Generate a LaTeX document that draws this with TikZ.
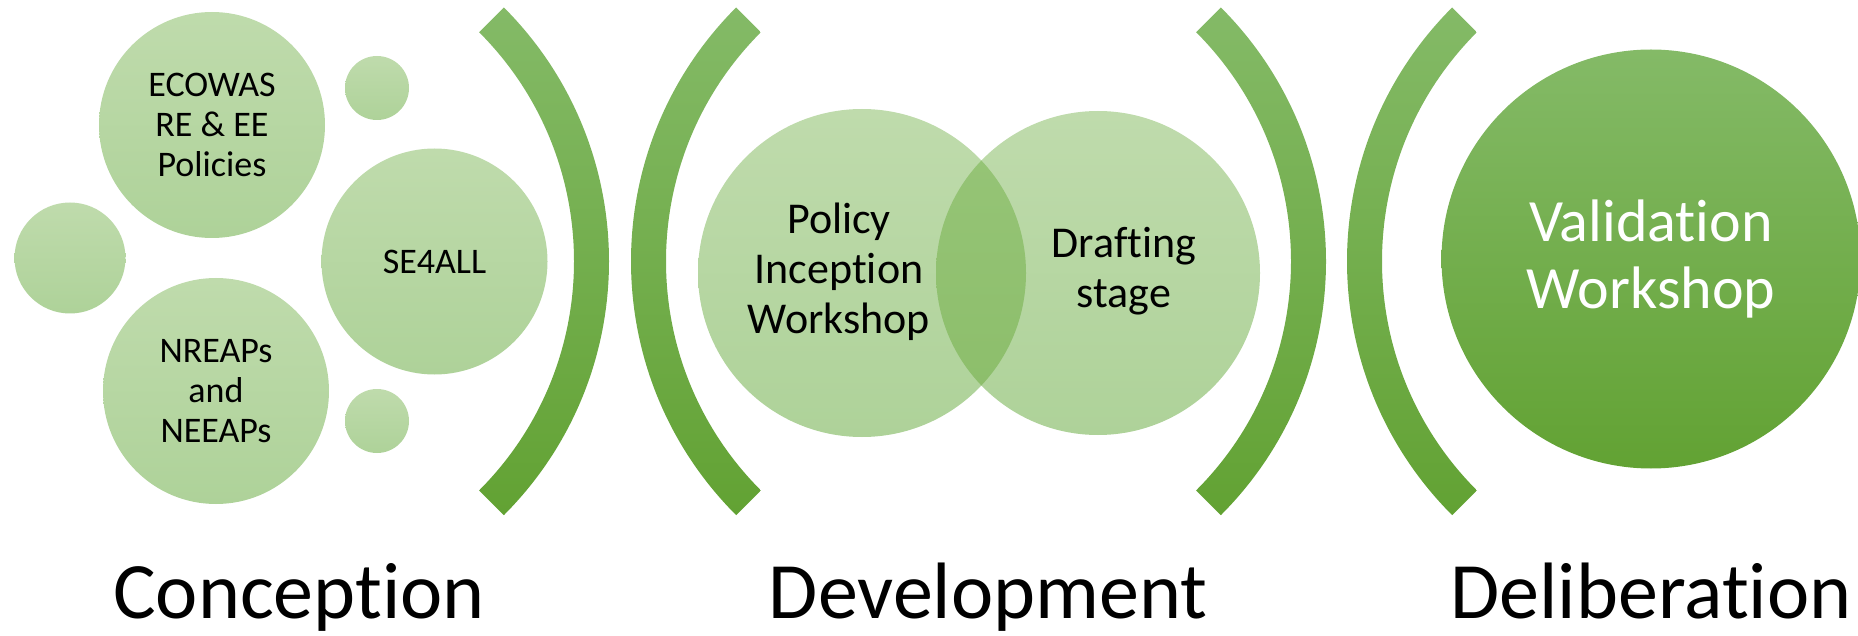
\documentclass[tikz,border=0pt]{standalone}
\usepackage{fontspec}
\setmainfont{Carlito}[RawFeature={-liga;-clig;-calt;-dlig}]
\usetikzlibrary{shapes,positioning}
\definecolor{leafhi}{HTML}{84BA67}
\definecolor{leaflo}{HTML}{62A233}
\definecolor{palehi}{HTML}{BFDBAC}
\definecolor{palelo}{HTML}{AED299}
\definecolor{lenshi}{HTML}{97C578}
\definecolor{lenslo}{HTML}{8BBD69}
\newcommand{\parenrad}{359}
\newcommand{\parenin}{324}
% one bracket: #1 = centre x, #2 = start angle
\newcommand{\paren}[2]{%
    \shade[bracket] ([shift={(#2:\parenrad)}]#1,261.3) arc[start angle=#2, delta angle=90, radius=\parenrad]
        -- ([shift={(#2+90:\parenin)}]#1,261.3) arc[start angle=#2+90, delta angle=-90, radius=\parenin] -- cycle;}
\tikzset{
    x = 0.5pt, y = -0.5pt,
    bubble/.style = { circle, inner sep = 0pt, outer sep = 0pt,
        top color = palehi, bottom color = palelo,
        align = center, font = \fontsize{18}{20}\selectfont,
        minimum size = #1
    },
    bubble/.default = 113pt,
    bigtext/.style = { align = center, font = \fontsize{22}{25}\selectfont },
    stage/.style = { circle, inner sep = 0pt, outer sep = 0pt,
        top color = leafhi, bottom color = leaflo,
        align = center, text = white,
        font = \fontsize{30}{33.8}\selectfont,
        minimum size = 209.5pt
    },
    phase/.style = { anchor = base, font = \fontsize{40}{48}\selectfont },
    bracket/.style = { top color = leafhi, bottom color = leaflo }
}
\begin{document}
\begin{tikzpicture}
    \useasboundingbox (0,0) rectangle (1858,636);

    % Conception...
    \node[bubble] (ecowas) at (212,125) {ECOWAS\\ RE \& EE\\ Policies};
    \node[bubble] (se4all) at (434.5,261.5) {SE4ALL};
    \node[bubble] (nreap)  at (216,391) {NREAPs\\ and\\ NEEAPs};
    \node[bubble=55.5pt] (dotl) at (70,258) {};
    \node[bubble=32pt] (dott) at (377,88) {};
    \node[bubble=32pt] (dotb) at (377,421) {};

    % brackets...
    \paren{250}{-45}
    \paren{990}{135}
    \paren{967}{-45}
    \paren{1706}{135}

    % Development...
    \node[bubble=164pt] (incep) at (862,273) {};
    \node[bubble=162pt] (draft) at (1098,273) {};
    \begin{scope}
        \clip (incep.center) circle[radius=164];
        \shade[top color=lenshi, bottom color=lenslo] (draft.center) circle[radius=162];
    \end{scope}
    \node[bigtext] (inceptxt) at (839,272) {Policy\\ Inception\\ Workshop};
    \node[bigtext] (drafttxt) at (1124,271) {Drafting\\ stage};

    % Deliberation...
    \node[stage] (valid) at (1651,259) {Validation\\ Workshop};

    % phase labels...
    \node[phase] (concep) at (299,618) {Conception};
    \node[phase] (devel)  at (988,618) {Development};
    \node[phase] (delib)  at (1651,618) {Deliberation};
\end{tikzpicture}
\end{document}
